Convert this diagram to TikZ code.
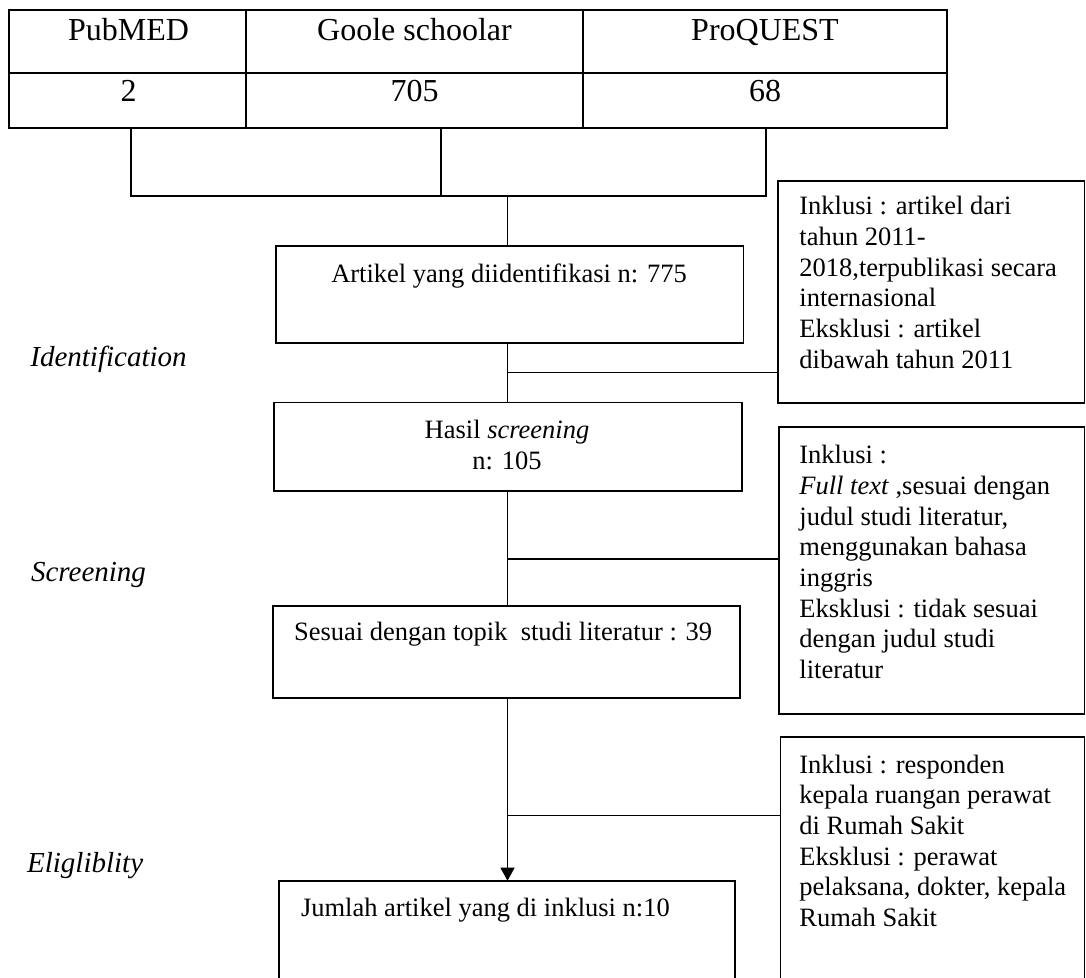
\documentclass[tikz,border=0pt]{standalone}
\usepackage{fontspec}
\setmainfont{Liberation Serif}
\usetikzlibrary{arrows.meta}
\newcommand\bodyfont{\fontsize{13.25}{15.35}\selectfont}
\newcommand\tabfont{\fontsize{16}{19}\selectfont}
\newcommand\labfont{\fontsize{14.5}{17}\selectfont\itshape}
\tikzset{
  box/.style={draw, line width=0.85pt, inner sep=0pt, outer sep=0pt},
  cell/.style={draw, line width=1pt, inner sep=0pt, outer sep=0pt},
  conn/.style={line width=0.65pt},
  txt/.style={inner sep=0pt, font=\bodyfont},
  ttxt/.style={inner sep=0pt, font=\tabfont, anchor=base},
  lab/.style={inner sep=0pt, font=\labfont, anchor=base west},
  arr/.style={conn, -{Triangle[length=6.5pt,width=7pt]}}
}
\begin{document}
\begin{tikzpicture}[x=0.5pt,y=-0.5pt]
\useasboundingbox (0,0) rectangle (1086,978);
\fill[white] (0,0) rectangle (1086,978);
\clip (0,0) rectangle (1086,978);

% table
\node[cell, minimum width=118.65pt, minimum height=31.35pt] (c11) at (127.35,41.35) {};
\node[cell, minimum width=168.5pt, minimum height=31.35pt] (c12) at (414.5,41.35) {};
\node[cell, minimum width=182pt, minimum height=31.35pt] (c13) at (765,41.35) {};
\node[cell, minimum width=118.65pt, minimum height=27.9pt] (c21) at (127.35,100.6) {};
\node[cell, minimum width=168.5pt, minimum height=27.9pt] (c22) at (414.5,100.6) {};
\node[cell, minimum width=182pt, minimum height=27.9pt] (c23) at (765,100.6) {};
\node[ttxt] (t11) at (128.5,41) {PubMED};
\node[ttxt] (t12) at (414.5,41) {Goole schoolar};
\node[ttxt] (t13) at (765,41) {ProQUEST};
\node[ttxt] (t21) at (128.5,102) {2};
\node[ttxt] (t22) at (414.5,102) {705};
\node[ttxt] (t23) at (765,102) {68};

% boxes
\node[box, minimum width=233.95pt, minimum height=48.5pt] (art) at (509.65,294.5) {};
\node[box, minimum width=233.9pt, minimum height=44.25pt] (scr) at (507.9,446.75) {};
\node[box, minimum width=233.5pt, minimum height=46pt] (top) at (506.5,651.7) {};
\node[box, minimum width=228pt, minimum height=59.65pt] (fin) at (507,940.35) {};
\node[box, minimum width=153.25pt, minimum height=111pt] (inc1) at (931.25,291.7) {};
\node[box, minimum width=152.85pt, minimum height=143.65pt] (inc2) at (931.65,570.35) {};
\node[box, minimum width=152.05pt, minimum height=131.35pt] (inc3) at (932.45,868.65) {};

% box texts
\node[txt, anchor=base] (tart) at (509,282.7) {Artikel yang diidentifikasi n: 775};
\node[txt, anchor=north, align=center] (tscr) at (507,416.5) {\strut Hasil \textit{screening}\\n: 105};
\node[txt, anchor=base west] (ttop) at (293.7,640.7) {Sesuai dengan topik\ \ studi literatur : 39};
\node[txt, anchor=base west] (tfin) at (300.6,916.7) {Jumlah artikel yang di inklusi n:10};
\node[txt, anchor=north west, align=left] (tinc1) at (799,192.8) {\strut Inklusi : artikel dari\\tahun 2011-\\2018,terpublikasi secara\\internasional\\Eksklusi : artikel\\dibawah tahun 2011};
\node[txt, anchor=north west, align=left] (tinc2) at (799,441.8) {\strut Inklusi :\\\textit{Full text} ,sesuai dengan\\judul studi literatur,\\menggunakan bahasa\\inggris\\Eksklusi : tidak sesuai\\dengan judul studi\\literatur};
\node[txt, anchor=north west, align=left] (tinc3) at (799,751.2) {\strut Inklusi : responden\\kepala ruangan perawat\\di Rumah Sakit\\Eksklusi : perawat\\pelaksana, dokter, kepala\\Rumah Sakit};

% side labels
\node[lab] (lid) at (30,366.7) {Identification};
\node[lab] (lsc) at (30.7,581.7) {Screening};
\node[lab] (lel) at (26.7,872) {Eligliblity};

% connectors
\coordinate (sx) at (507.5,196);
\coordinate (j1) at (131,196);
\coordinate (j2) at (441,196);
\coordinate (j3) at (766,196);
\draw[conn] (c21.south -| j1) -- (j1) -- (j3) -- (c23.south -| j3);
\draw[conn] (c22.south -| j2) -- (j2);
\draw[conn] (sx) -- (art.north -| sx);
\coordinate (b1) at (507.5,372.7);
\coordinate (b2) at (507.5,559);
\coordinate (b3) at (507.5,815.7);
\draw[conn] (art.south -| sx) -- (scr.north -| sx);
\draw[conn] (b1) -- (b1 -| inc1.west);
\draw[conn] (scr.south -| sx) -- (top.north -| sx);
\draw[conn] (b2) -- (b2 -| inc2.west);
\draw[arr] (top.south -| sx) -- (fin.north -| sx);
\draw[conn] (b3) -- (b3 -| inc3.west);
\end{tikzpicture}
\end{document}
